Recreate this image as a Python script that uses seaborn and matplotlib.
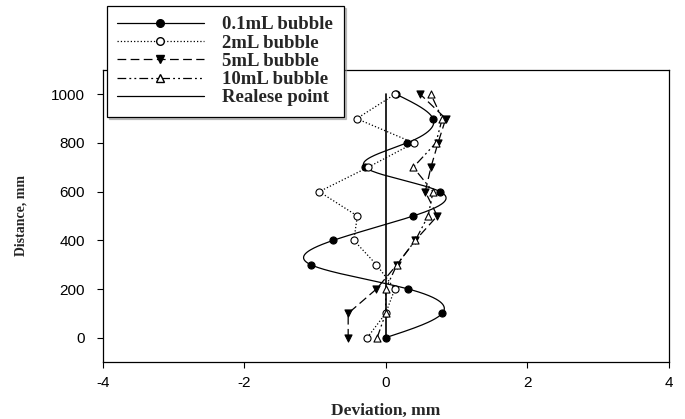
import matplotlib
matplotlib.use("Agg")
import matplotlib.pyplot as plt
from matplotlib.lines import Line2D
import numpy as np
import seaborn as sns

# ---- data ----
distance = [0, 100, 200, 300, 400, 500, 600, 700, 800, 900, 1000]
dev_01ml = [0.00, 0.80, 0.32, -1.06, -0.74, 0.39, 0.77, -0.29, 0.30, 0.67, 0.15]
dev_2ml = [-0.26, 0.00, 0.13, -0.13, -0.45, -0.40, -0.94, -0.25, 0.40, -0.41, 0.13]
dev_5ml = [-0.53, -0.53, -0.13, 0.16, 0.42, 0.73, 0.56, 0.64, 0.74, 0.85, 0.49]
dev_10ml = [-0.12, 0.00, 0.00, 0.16, 0.42, 0.60, 0.67, 0.39, 0.71, 0.80, 0.64]
release_x = [0, 0]
release_y = [0, 1000]

labels = ["0.1mL bubble", "2mL bubble", "5mL bubble", "10mL bubble", "Realese point"]


def natural_spline(t, v, n=400):
    """Natural cubic spline through (t, v), used only to draw the smooth curve."""
    t = np.asarray(t, float); v = np.asarray(v, float)
    k = len(t); h = np.diff(t)
    A = np.zeros((k, k)); b = np.zeros(k)
    A[0, 0] = A[-1, -1] = 1
    for i in range(1, k - 1):
        A[i, i - 1] = h[i - 1]; A[i, i] = 2 * (h[i - 1] + h[i]); A[i, i + 1] = h[i]
        b[i] = 6 * ((v[i + 1] - v[i]) / h[i] - (v[i] - v[i - 1]) / h[i - 1])
    M = np.linalg.solve(A, b)
    tt = np.linspace(t[0], t[-1], n)
    idx = np.clip(np.searchsorted(t, tt) - 1, 0, k - 2)
    t0, t1 = t[idx], t[idx + 1]; hh = t1 - t0
    vv = (M[idx] * (t1 - tt) ** 3 / (6 * hh) + M[idx + 1] * (tt - t0) ** 3 / (6 * hh)
          + (v[idx] / hh - M[idx] * hh / 6) * (t1 - tt)
          + (v[idx + 1] / hh - M[idx + 1] * hh / 6) * (tt - t0))
    return tt, vv


sns.set_style("ticks")
plt.rcParams["font.family"] = ["Liberation Sans", "DejaVu Sans"]
plt.rcParams["axes.unicode_minus"] = False

fig = plt.figure(figsize=(6.85, 4.19), dpi=100)
ax = fig.add_axes([0.150, 0.136, 0.826, 0.697])

k = dict(color="black", lw=0.9, estimator=None, sort=False, ax=ax, legend=False)
mk = dict(s=26, edgecolor="black", linewidth=0.8, ax=ax, legend=False, zorder=5)

# 0.1 mL - smooth curve
sy, sx = natural_spline(distance, dev_01ml)
sns.lineplot(x=sx, y=sy, **k)
sns.scatterplot(x=dev_01ml, y=distance, marker="o", color="black", **mk)

# 2 mL - dotted
sns.lineplot(x=dev_2ml, y=distance, linestyle=":", **k)
sns.scatterplot(x=dev_2ml, y=distance, marker="o", color="white", **mk)

# 5 mL - dashed
sns.lineplot(x=dev_5ml, y=distance, **k).lines[-1].set_dashes([7, 3.5])
sns.scatterplot(x=dev_5ml, y=distance, marker="v", color="black", **mk)

# 10 mL - dash dot dot
sns.lineplot(x=dev_10ml, y=distance, **k).lines[-1].set_dashes([7, 2.5, 1.5, 2.5, 1.5, 2.5])
sns.scatterplot(x=dev_10ml, y=distance, marker="^", color="white", **mk)

# release point
sns.lineplot(x=release_x, y=release_y, color="black", lw=1.2, estimator=None,
             sort=False, ax=ax, legend=False)

ax.set_xlim(-4, 4)
ax.set_ylim(-100, 1100)
ax.set_xticks([-4, -2, 0, 2, 4])
ax.set_yticks([0, 200, 400, 600, 800, 1000])
ax.tick_params(direction="out", length=4, width=0.8, labelsize=11, colors="black")
ax.tick_params(axis="x", pad=6)
ax.tick_params(axis="y", pad=9)
for s in ax.spines.values():
    s.set_visible(True); s.set_color("black"); s.set_linewidth(0.9)

ax.set_xlabel("Deviation, mm", family="Liberation Serif", weight="bold",
              fontsize=12.5, labelpad=9)
ax.set_ylabel("Distance, mm", family="Liberation Serif", weight="bold",
              fontsize=10, labelpad=17)

handles = [
    Line2D([], [], color="black", lw=0.9, marker="o", ms=5.5, mfc="black", mec="black"),
    Line2D([], [], color="black", lw=0.9, ls=":", marker="o", ms=5.5, mfc="white", mec="black"),
    Line2D([], [], color="black", lw=0.9, dashes=[7, 3.5], marker="v", ms=5.5, mfc="black", mec="black"),
    Line2D([], [], color="black", lw=0.9, dashes=[7, 2.5, 1.5, 2.5, 1.5, 2.5], marker="^", ms=5.5,
           mfc="white", mec="black"),
    Line2D([], [], color="black", lw=0.9),
]
leg = fig.legend(handles, labels, loc="upper left", bbox_to_anchor=(107 / 685, 1 - 6 / 419),
                 bbox_transform=fig.transFigure, frameon=True, fancybox=False,
                 shadow={"ox": 1.5, "oy": -1.5, "color": "0.55"},
                 handlelength=4.6, handletextpad=1.0, labelspacing=0.06, borderpad=0.55,
                 borderaxespad=0,
                 prop={"family": "Liberation Serif", "weight": "bold", "size": 13.5})
leg.get_frame().set_edgecolor("black")
leg.get_frame().set_linewidth(0.9)

fig.savefig("out.png", dpi=100)
